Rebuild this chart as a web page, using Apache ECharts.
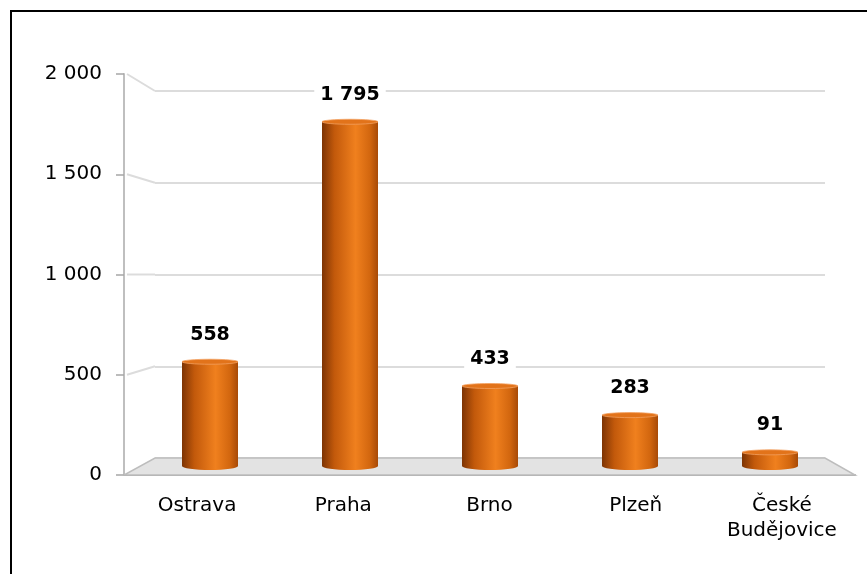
<!DOCTYPE html>
<html lang="cs">
<head>
    <meta charset="UTF-8">
    <title>Města</title>
    <script src="https://cdn.jsdelivr.net/npm/echarts@6/dist/echarts.min.js"></script>
</head>
<body style="margin: 0; background: #fff">
    <div id="chart" style="width: 867px; height: 574px;"></div>
    <script>
        // data
        const cities = ['Ostrava', 'Praha', 'Brno', 'Plzeň', 'České Budějovice'];
        const values = [558, 1795, 433, 283, 91];
        const yTicks = [0, 500, 1000, 1500, 2000];

        const FONT = 'DejaVu Sans';
        const fmt = v => String(v).replace(/\B(?=(\d{3})+(?!\d))/g, ' ');

        const myChart = echarts.init(document.getElementById('chart'));

        // válec: tělo + spodní elipsa + horní víčko + popisek
        function renderCylinder(params, api) {
            const idx = api.value(0);
            const val = api.value(1);
            const top = api.coord([idx, val]);
            const base = api.coord([idx, 0]);
            const r = api.size([1, 0])[0] * 0.4 / 2;
            const x = top[0];
            const y1 = top[1];
            const ryB = 4, ryT = 2.5;
            const yb = base[1] - ryB;

            const bodyFill = new echarts.graphic.LinearGradient(0, 0, 1, 0, [
                { offset: 0, color: '#7d3404' },
                { offset: 0.22, color: '#c2590b' },
                { offset: 0.6, color: '#f0801e' },
                { offset: 0.85, color: '#d3670f' },
                { offset: 1, color: '#a84a07' }
            ]);
            const body = `M${x - r},${y1} L${x - r},${yb} A${r},${ryB} 0 0 0 ${x + r},${yb} L${x + r},${y1} Z`;
            const cap = `M${x - r},${y1} A${r},${ryT} 0 1 0 ${x + r},${y1} A${r},${ryT} 0 1 0 ${x - r},${y1} Z`;

            return {
                type: 'group',
                children: [
                    { type: 'path', shape: { pathData: body }, style: { fill: bodyFill } },
                    {
                        type: 'path', shape: { pathData: cap },
                        style: { fill: '#e2731a', stroke: '#f3a060', lineWidth: 0.8 }
                    },
                    {
                        type: 'text',
                        style: {
                            x: x, y: y1 - 27, text: fmt(val),
                            font: `bold 19px "${FONT}"`, fill: '#000',
                            align: 'center', verticalAlign: 'middle',
                            backgroundColor: '#fff', padding: [1, 6]
                        }
                    }
                ]
            };
        }

        const option = {
            animation: false,
            grid: [
                // přední osy
                { left: 124, top: 74, width: 731, height: 401 },
                // zadní stěna (mřížka)
                { left: 155, top: 91, width: 670, height: 367 },
                // válce
                { left: 140, top: 82, width: 700, height: 388 }
            ],
            xAxis: [
                {
                    gridIndex: 0, type: 'category', data: cities,
                    axisLine: { lineStyle: { color: '#a6a6a6', width: 2 } },
                    axisTick: { length: 5, lineStyle: { color: '#a6a6a6', width: 1.5 } },
                    axisLabel: {
                        margin: 18, fontFamily: FONT, fontSize: 20, color: '#000', lineHeight: 25,
                        formatter: s => s.replace(' ', '\n')
                    }
                },
                { gridIndex: 1, type: 'category', data: cities, show: false },
                { gridIndex: 2, type: 'category', data: cities, show: false }
            ],
            yAxis: [
                {
                    gridIndex: 0, min: yTicks[0], max: yTicks[yTicks.length - 1], interval: 500,
                    axisLine: { show: true, lineStyle: { color: '#bfbfbf', width: 2 } },
                    axisTick: { show: true, length: 8, lineStyle: { color: '#a6a6a6', width: 1.5 } },
                    splitLine: { show: false },
                    axisLabel: { margin: 22, fontFamily: FONT, fontSize: 20, color: '#000', formatter: fmt }
                },
                {
                    gridIndex: 1, min: yTicks[0], max: yTicks[yTicks.length - 1], interval: 500,
                    axisLine: { show: false }, axisTick: { show: false }, axisLabel: { show: false },
                    splitLine: { lineStyle: { color: '#dcdcdc', width: 2 } }
                },
                { gridIndex: 2, min: 0, max: 2000, show: false }
            ],
            series: [
                {
                    type: 'custom',
                    xAxisIndex: 2, yAxisIndex: 2,
                    renderItem: renderCylinder,
                    data: values.map((v, i) => [i, v]),
                    z: 5
                }
            ]
        };

        myChart.setOption(option);

        // podlaha, spojnice mřížky a rámeček z pozic os
        const front = v => myChart.convertToPixel({ gridIndex: 0 }, [0, v]);
        const back = v => myChart.convertToPixel({ gridIndex: 1 }, [0, v]);
        const fl = myChart.convertToPixel({ gridIndex: 0 }, [0, 0])[1];
        const bl = myChart.convertToPixel({ gridIndex: 1 }, [0, 0])[1];
        const gA = myChart.getModel().getComponent('grid', 0).coordinateSystem.getRect();
        const gB = myChart.getModel().getComponent('grid', 1).coordinateSystem.getRect();

        const elements = [
            {
                type: 'polygon', z: 1,
                shape: { points: [[gA.x, fl], [gA.x + gA.width, fl], [gB.x + gB.width, bl], [gB.x, bl]] },
                style: { fill: '#e3e3e3', stroke: '#bdbdbd', lineWidth: 1.5 }
            }
        ];
        yTicks.slice(1).forEach(v => {
            elements.push({
                type: 'line', z: 1,
                shape: { x1: gA.x + 3, y1: front(v)[1], x2: gB.x, y2: back(v)[1] },
                style: { stroke: '#dcdcdc', lineWidth: 2 }
            });
        });
        elements.push({
            type: 'rect', z: 10,
            shape: { x: 11, y: 11, width: 900, height: 620 },
            style: { fill: 'none', stroke: '#000', lineWidth: 2 }
        });

        myChart.setOption({ graphic: { elements: elements } });
    </script>
</body>
</html>
